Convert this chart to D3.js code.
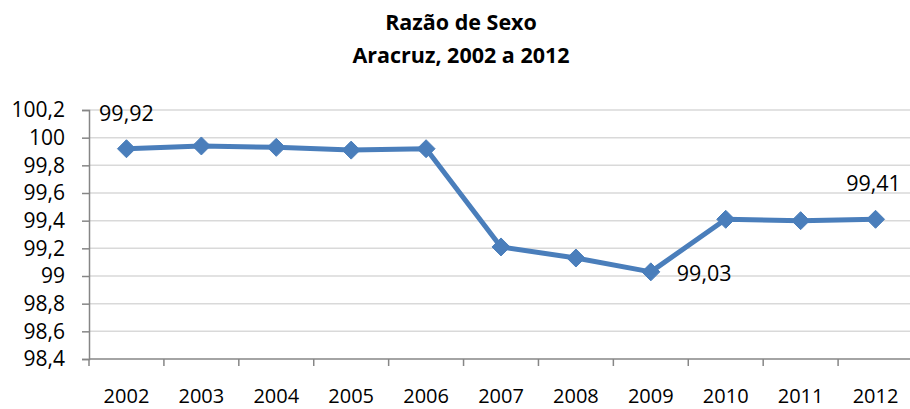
<!DOCTYPE html>
<html>
<head>
<meta charset="utf-8">
<script src="https://cdn.jsdelivr.net/npm/d3@7"></script>
<style>
  body { margin: 0; background: #fff; }
  text { font-family: "Open Sans", sans-serif; }
</style>
</head>
<body>
<div id="chart"></div>
<script>
// data
const years = ["2002", "2003", "2004", "2005", "2006", "2007", "2008", "2009", "2010", "2011", "2012"];
const ratio = [99.92, 99.94, 99.93, 99.91, 99.92, 99.21, 99.13, 99.03, 99.41, 99.40, 99.41];
const yTicks = [98.4, 98.6, 98.8, 99, 99.2, 99.4, 99.6, 99.8, 100, 100.2];
const labelled = ["2002", "2009", "2012"]; // years that carry a data label
const titleLines = ["Razão de Sexo", "Aracruz, 2002 a 2012"];

const W = 910, H = 409;
const margin = { top: 110, right: -3, bottom: 50, left: 89 },
    width = W - margin.left - margin.right,
    height = H - margin.top - margin.bottom;

const svg = d3.select("#chart")
    .append("svg")
    .attr("width", W)
    .attr("height", H);

// Title
svg.append("g").selectAll("text")
    .data(titleLines)
    .join("text")
    .attr("x", 461)
    .attr("y", (d, i) => 30 + i * 33)
    .attr("text-anchor", "middle")
    .style("font-weight", "bold")
    .style("font-size", "21.5px")
    .text(d => d);

const g = svg.append("g")
    .attr("transform", `translate(${margin.left},${margin.top})`);

const x = d3.scaleBand()
    .domain(years)
    .range([0, width])
    .padding(0);

const y = d3.scaleLinear()
    .domain([98.4, 100.2])
    .range([height, 0]);

const fmt = v => d3.format(".2~f")(v).replace(".", ",");
const fmtTick = v => d3.format("~f")(+v.toFixed(1)).replace(".", ",");

// gridlines
g.append("g")
    .selectAll("line")
    .data(yTicks.slice(1))
    .join("line")
    .attr("x1", 0)
    .attr("x2", width)
    .attr("y1", d => y(d))
    .attr("y2", d => y(d))
    .attr("stroke", "#d9d9d9")
    .attr("stroke-width", 1.5);

// y axis
const yAxis = g.append("g")
    .call(d3.axisLeft(y).tickValues(yTicks).tickFormat(fmtTick).tickSize(7).tickPadding(17));
yAxis.select(".domain").attr("stroke", "#868686").attr("stroke-width", 1.5);
yAxis.selectAll(".tick line").attr("stroke", "#868686").attr("stroke-width", 1.5);
yAxis.selectAll("text")
    .style("font-family", "Open Sans, sans-serif")
    .style("font-size", "21px")
    .attr("fill", "#000");

// x axis: ticks at band boundaries, labels at band centers
const xAxis = g.append("g")
    .attr("transform", `translate(0,${height})`);
xAxis.append("line")
    .attr("x1", 0).attr("x2", width)
    .attr("stroke", "#868686").attr("stroke-width", 1.5);
xAxis.selectAll(".xtick")
    .data(years)
    .join("line")
    .attr("class", "xtick")
    .attr("x1", d => x(d))
    .attr("x2", d => x(d))
    .attr("y1", 0)
    .attr("y2", 7)
    .attr("stroke", "#868686")
    .attr("stroke-width", 1.5);
xAxis.selectAll(".xlab")
    .data(years)
    .join("text")
    .attr("class", "xlab")
    .attr("x", d => x(d) + x.bandwidth() / 2)
    .attr("y", 44)
    .attr("text-anchor", "middle")
    .style("font-size", "20px")
    .text(d => d);

const pts = years.map((yr, i) => ({ year: yr, value: ratio[i] }));
const cx = d => x(d.year) + x.bandwidth() / 2;

// line
g.append("path")
    .datum(pts)
    .attr("fill", "none")
    .attr("stroke", "#4a7ebb")
    .attr("stroke-width", 5)
    .attr("stroke-linejoin", "round")
    .attr("d", d3.line().x(cx).y(d => y(d.value)));

// diamond markers
g.append("g")
    .selectAll("path")
    .data(pts)
    .join("path")
    .attr("transform", d => `translate(${cx(d)},${y(d.value)})`)
    .attr("d", "M0,-9L9,0L0,9L-9,0Z")
    .attr("fill", "#4a7ebb")
    .attr("stroke", "#4a7ebb")
    .attr("stroke-width", 1);

// data labels (alphabetic baseline offsets)
const labelPos = {
    "2002": { dx: 0, dy: -28, anchor: "middle" },
    "2009": { dx: 26, dy: 9, anchor: "start" },
    "2012": { dx: -2, dy: -28, anchor: "middle" }
};
g.append("g")
    .selectAll("text")
    .data(pts.filter(d => labelled.includes(d.year)))
    .join("text")
    .attr("x", d => cx(d) + labelPos[d.year].dx)
    .attr("y", d => y(d.value) + labelPos[d.year].dy)
    .attr("text-anchor", d => labelPos[d.year].anchor)
    .style("font-size", "21.5px")
    .text(d => fmt(d.value));
</script>
</body>
</html>
